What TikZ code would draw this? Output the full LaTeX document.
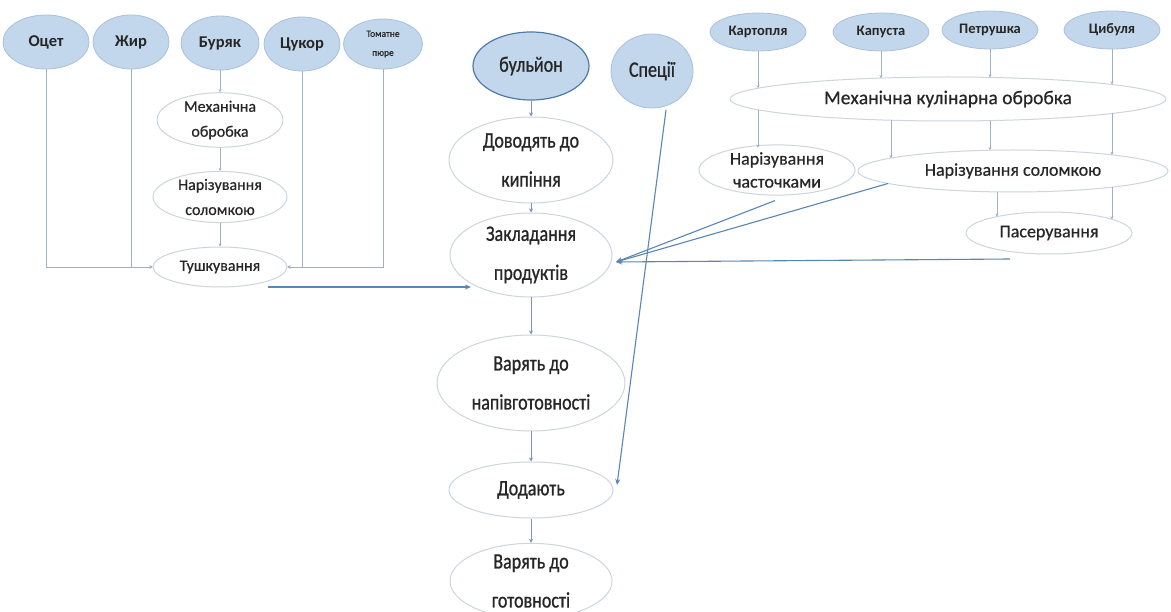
\documentclass[tikz,border=0pt]{standalone}
\usepackage{fontspec}
\setmainfont{Carlito}
\newfontfamily\cond[FakeStretch=0.82,FakeBold=0.9]{Carlito}
\newfontfamily\semi[FakeBold=0.5]{Carlito}
\usetikzlibrary{shapes.geometric,arrows.meta,calc}
\definecolor{inblue}{HTML}{C3D7EC}
\definecolor{inbord}{HTML}{A9C1DC}
\definecolor{darkbord}{HTML}{4F7BA8}
\definecolor{wbord}{HTML}{CDD5DF}
\definecolor{lncol}{HTML}{A3AFBD}
\definecolor{midcol}{HTML}{7B95B3}
\definecolor{arrcol}{HTML}{5A86B3}
\definecolor{txt}{HTML}{262626}
\begin{document}
\begin{tikzpicture}[x=1pt,y=-1pt,
  sz/.style n args={2}{minimum width=#1,minimum height=#2},
  base/.style={ellipse,inner sep=0pt,align=center,text=txt},
  inb/.style={base,fill=inblue,draw=inbord,line width=0.8pt},
  wb/.style={base,fill=white,draw=wbord,line width=1pt},
  fa/.style={font=\fontsize{16.5}{18}\selectfont\bfseries},
  fb/.style={font=\fontsize{14.5}{16}\selectfont\bfseries},
  fl/.style={font=\semi\fontsize{16}{25}\selectfont},
  fr/.style={font=\semi\fontsize{18}{23}\selectfont},
  fc/.style={font=\cond\fontsize{22}{39}\selectfont},
  ln/.style={draw=lncol,line width=0.6pt,-{Stealth[length=3pt,width=3pt]}},
  mid/.style={draw=midcol,line width=0.8pt,-{Stealth[length=4pt,width=4pt]}},
  big/.style={draw=arrcol,line width=1.1pt,-{Stealth[length=6pt,width=5pt]}},
]
\useasboundingbox (0,0) rectangle (1171,612);
\fill[white] (0,0) rectangle (1171,612);

% left top
\node[inb,fa,sz={86}{54}] (ocet) at (46,42) {Оцет};
\node[inb,fa,sz={76}{54}] (zhyr) at (131,42) {Жир};
\node[inb,fa,sz={78}{54}] (bur) at (220,43) {Буряк};
\node[inb,fa,sz={76}{54}] (tsuk) at (302,44) {Цукор};
\node[inb,sz={79}{50},font=\semi\fontsize{9.5}{19}\selectfont] (tom) at (383,44) {Томатне\\пюре};

\node[wb,fl,sz={126}{46}] (mech) at (220,120) {Механічна\\обробка};
\node[wb,fl,sz={134}{48}] (narl) at (220,197) {Нарізування\\соломкою};
\node[wb,fl,sz={134}{40}] (tush) at (220,267) {Тушкування};

\draw[ln] (bur) -- (mech);
\draw[ln] (mech) -- (narl);
\draw[ln] (narl) -- (tush);
\draw[ln] (ocet.south) |- (tush.west);
\draw[ln] (zhyr.south) |- (tush.west);
\draw[ln] (tsuk.south) |- (tush.east);
\draw[ln] (tom.south) |- (tush.east);

% centre
\node[inb,fc,sz={116}{68},draw=darkbord,line width=1.2pt] (bul) at (531,66) {бульйон};
\node[inb,fc,sz={82}{74}] (spec) at (652,71) {Спеції};
\node[wb,fc,sz={164}{86}] (dov) at (531,160) {Доводять до\\кипіння};
\node[wb,fc,sz={162}{84}] (zakl) at (531,255) {Закладання\\продуктів};
\node[wb,fc,sz={188}{96}] (var) at (531,383) {Варять до\\напівготовності};
\node[wb,fc,sz={164}{56}] (dod) at (531,490) {Додають};
\node[wb,fc,sz={162}{72}] (vg) at (531,581) {Варять до\\готовності};

\draw[mid] (bul) -- (dov);
\draw[mid] (dov) -- (zakl);
\draw[mid] (zakl) -- (var);
\draw[mid] (var) -- (dod);
\draw[mid] (dod) -- (vg);
\draw[big] ($(spec.center)+(14,39)$) -- ($(dod.center)+(86,-5)$);

\coordinate (tstart) at (268,287);
\draw[big] (tstart) -- ($(zakl.center)+(-60,32)$);

% right
\node[inb,fb,sz={96}{38}] (kart) at (758,32) {Картопля};
\node[inb,fb,sz={96}{38}] (kap) at (881,32) {Капуста};
\node[inb,fb,sz={96}{38}] (petr) at (990,30) {Петрушка};
\node[inb,fb,sz={96}{38}] (tsyb) at (1112,30) {Цибуля};

\node[wb,sz={436}{44},font=\semi\fontsize{19.5}{22}\selectfont] (mk) at (948,99) {Механічна кулінарна обробка};
\node[wb,fr,sz={156}{46}] (nch) at (777,170) {Нарізування\\часточками};
\node[wb,fr,sz={310}{42}] (nsol) at (1013,171) {Нарізування соломкою};
\node[wb,fr,sz={166}{42}] (pas) at (1049,233) {Пасерування};

\draw[ln] (kart.south) -- ($(mk.center)+(-190,-10.8)$);
\draw[ln] (kap.south) -- ($(mk.center)+(-67,-20.9)$);
\draw[ln] (petr.south) -- ($(mk.center)+(42,-21.6)$);
\draw[ln] (tsyb.south) -- ($(mk.center)+(164,-14.5)$);

\draw[ln] ($(mk.center)+(-190,10.8)$) -- ($(nch.center)+(-19,-22.3)$);
\draw[ln] ($(mk.center)+(-57,21.2)$) -- ($(nsol.center)+(-122,-12.9)$);
\draw[ln] ($(mk.center)+(42,21.6)$) -- ($(nsol.center)+(-23,-20.8)$);
\draw[ln] ($(mk.center)+(164,14.5)$) -- ($(nsol.center)+(99,-16.2)$);

\draw[ln] ($(nsol.center)+(-16,20.9)$) -- ($(pas.center)+(-52,-16.4)$);
\draw[ln] ($(nsol.center)+(99,16.2)$) -- ($(pas.center)+(63,-13.7)$);

\coordinate (zin) at ($(zakl.center)+(85,7)$);
\coordinate (pstart) at (1010,259);
\draw[big] ($(nch.south)+(-2,5)$) -- (zin);
\draw[big] ($(nsol.center)+(-125,12.5)$) -- (zin);
\draw[big] (pstart) -- (zin);
\end{tikzpicture}
\end{document}
